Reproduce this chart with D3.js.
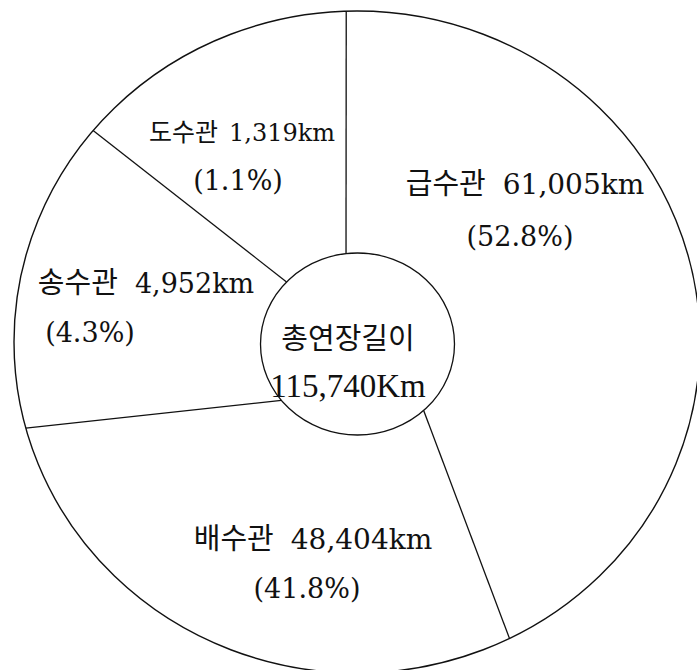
<!DOCTYPE html>
<html>
<head>
<meta charset="utf-8">
<script src="https://cdn.jsdelivr.net/npm/d3@7"></script>
<style>
  html, body { margin: 0; padding: 0; background: #fff; }
  svg { display: block; }
  .kr { font-family: "Noto Sans CJK KR", sans-serif; }
  .num { font-family: "DejaVu Serif", serif; }
</style>
</head>
<body>
<div id="chart"></div>
<script>
  // pipe network lengths by type
  var names = ['급수관', '배수관', '송수관', '도수관'];
  var lengthsKm = [61005, 48404, 4952, 1319];
  var shares = [52.8, 41.8, 4.3, 1.1];
  var totalKm = 115740;
  var centerTitle = '총연장길이';

  // the source does not draw slices to scale, so the spans (degrees)
  var outerSpanDeg = [155.4, 101.3, 54.8, 48.5];
  var innerSpanDeg = [143.8, 94.7, 81.3, 40.2];

  const WIDTH = 697;
  const HEIGHT = 670;
  const INK = '#111';

  var outer = { cx: 357, cy: 342, rx: 343, ry: 331, start: -1.8 };
  var inner = { cx: 357.5, cy: 344, rx: 97, ry: 91, start: -6.8 };

  // label layout: centre x and baselines of the two lines
  var labelPos = {
    '급수관': { x: 525, y1: 194, y2: 246, kr: 29, num: 28, gap: 17, pct: 27, px: 520 },
    '배수관': { x: 313, y1: 549, y2: 598, kr: 29, num: 28, gap: 17, pct: 27, px: 307 },
    '송수관': { x: 146, y1: 293, y2: 342, kr: 29, num: 27, gap: 17, pct: 27, px: 90 },
    '도수관': { x: 242, y1: 141, y2: 190, kr: 25, num: 24, gap: 11, pct: 27, px: 238 }
  };

  var rad = function (d) { return d * Math.PI / 180; };
  var fmtKm = d3.format(',');
  var fmtPct = d3.format('.1f');

  var svg = d3.select('#chart').append('svg')
    .attr('width', WIDTH)
    .attr('height', HEIGHT);

  function pieFor(ring, spans) {
    return d3.pie()
      .sort(null)
      .value(function (d) { return d; })
      .startAngle(rad(ring.start))
      .endAngle(rad(ring.start + 360))(spans);
  }

  function pointOn(ring, a) {
    return [ring.cx + ring.rx * Math.sin(a), ring.cy - ring.ry * Math.cos(a)];
  }

  var outerArcs = pieFor(outer, outerSpanDeg);
  var innerArcs = pieFor(inner, innerSpanDeg);

  // outer ring
  svg.append('ellipse')
    .attr('cx', outer.cx).attr('cy', outer.cy)
    .attr('rx', outer.rx).attr('ry', outer.ry)
    .attr('fill', '#fff')
    .attr('stroke', INK)
    .attr('stroke-width', 1.4);

  // slice boundaries
  svg.selectAll('.boundary')
    .data(names)
    .enter().append('line')
    .attr('class', 'boundary')
    .each(function (d, i) {
      var p0 = pointOn(inner, innerArcs[i].startAngle);
      var p1 = pointOn(outer, outerArcs[i].startAngle);
      d3.select(this)
        .attr('x1', p0[0]).attr('y1', p0[1])
        .attr('x2', p1[0]).attr('y2', p1[1]);
    })
    .attr('stroke', INK)
    .attr('stroke-width', 1.3);

  // centre circle
  svg.append('ellipse')
    .attr('cx', inner.cx).attr('cy', inner.cy)
    .attr('rx', inner.rx).attr('ry', inner.ry)
    .attr('fill', '#fff')
    .attr('stroke', INK)
    .attr('stroke-width', 1.3);

  svg.append('text')
    .attr('class', 'kr')
    .attr('x', 348).attr('y', 349)
    .attr('text-anchor', 'middle')
    .style('font-size', '29px')
    .attr('fill', INK)
    .text(centerTitle);

  svg.append('text')
    .attr('x', 348).attr('y', 397)
    .attr('text-anchor', 'middle')
    .style('font-family', '"Liberation Serif", serif')
    .style('font-size', '33px')
    .attr('fill', INK)
    .text(fmtKm(totalKm) + 'Km');

  // slice labels
  names.forEach(function (name, i) {
    var p = labelPos[name];
    var t = svg.append('text')
      .attr('x', p.x).attr('y', p.y1)
      .attr('text-anchor', 'middle')
      .attr('fill', INK);
    t.append('tspan')
      .attr('class', 'kr')
      .style('font-size', p.kr + 'px')
      .text(name);
    t.append('tspan')
      .attr('class', 'num')
      .attr('dx', p.gap)
      .style('font-size', p.num + 'px')
      .text(fmtKm(lengthsKm[i]) + 'km');

    svg.append('text')
      .attr('class', 'num')
      .attr('x', p.px).attr('y', p.y2)
      .attr('text-anchor', 'middle')
      .style('font-size', p.pct + 'px')
      .attr('fill', INK)
      .text('(' + fmtPct(shares[i]) + '%)');
  });
</script>
</body>
</html>
